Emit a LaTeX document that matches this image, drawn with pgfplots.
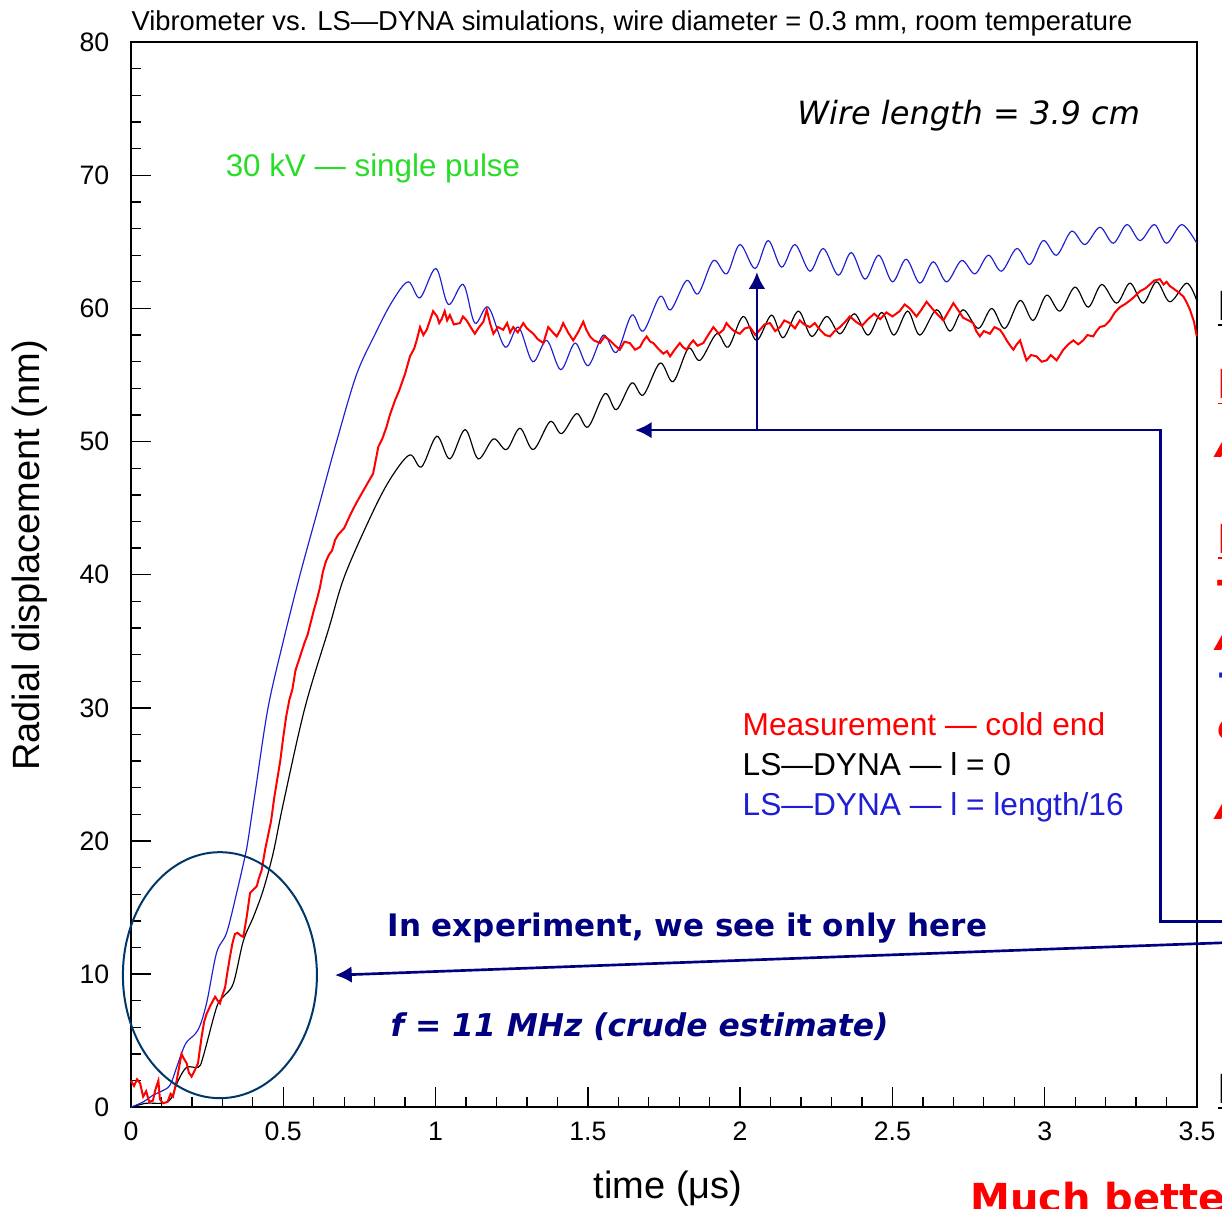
\documentclass[border=0pt]{standalone}
\usepackage{fontspec}
\setmainfont{Liberation Sans}
\newfontfamily\comic{DejaVu Sans}
\usepackage{pgfplots}
\pgfplotsset{compat=1.18}
\usepackage{pgfplotstable}
\usetikzlibrary{arrows.meta}

\definecolor{rootblue}{RGB}{30,30,210}
\definecolor{navy}{RGB}{0,0,128}
\definecolor{ellcol}{RGB}{0,55,105}
\definecolor{lblgreen}{RGB}{40,220,40}

% LS-DYNA, l = length/16
\pgfplotstableread{
x y
0 0
0.04 0.4
0.072 0.9
0.10 1.2
0.128 1.65
0.15 3.0
0.166 4.05
0.183 4.9
0.22 5.8
0.248 7.8
0.281 11.6
0.314 13.1
0.347 16.1
0.374 18.8
0.384 20
0.41 24
0.45 30
0.50 35
0.555 40
0.615 45
0.675 50
0.74 55
0.80 58
0.857 60.5
0.91 62.0
0.949 60.8
1.001 63.0
1.042 60.3
1.091 61.8
1.129 58.9
1.173 60.1
1.228 57.1
1.272 58.6
1.319 56.0
1.365 57.6
1.411 55.4
1.458 57.4
1.501 55.7
1.551 58.0
1.594 56.7
1.644 59.5
1.682 58.3
1.737 60.9
1.772 59.9
1.824 62.1
1.862 61.1
1.912 63.6
1.956 62.6
1.999 64.8
2.049 63.0
2.092 65.1
2.136 63.1
2.18 64.8
2.229 62.8
2.273 64.5
2.322 62.5
2.365 64.2
2.41 62.2
2.455 64.0
2.50 62.0
2.545 63.7
2.59 61.9
2.634 63.5
2.678 62.0
2.727 63.6
2.771 62.6
2.815 64.0
2.858 62.8
2.908 64.5
2.951 63.3
2.995 65.1
3.039 64.0
3.088 65.8
3.132 64.8
3.181 66.1
3.225 64.9
3.27 66.3
3.313 65.1
3.36 66.3
3.40 64.9
3.45 66.3
3.499 64.9
}\bluedata

% LS-DYNA, l = 0
\pgfplotstableread{
x y
0 0
0.05 0.3
0.10 0.3
0.13 0.6
0.155 2.0
0.183 3.0
0.221 3.0
0.237 3.8
0.281 7.5
0.303 8.3
0.336 9.3
0.369 12.5
0.402 14.3
0.434 16.3
0.467 19.1
0.50 22.8
0.571 30
0.65 36
0.703 40
0.80 45
0.86 47.5
0.916 49.0
0.954 48.1
1.004 50.4
1.047 48.7
1.097 50.9
1.14 48.7
1.19 50.2
1.233 49.4
1.277 51.0
1.321 49.4
1.376 51.5
1.414 50.6
1.463 52.1
1.501 51.1
1.556 53.6
1.594 52.4
1.644 54.4
1.682 53.5
1.737 55.9
1.78 54.5
1.83 57.0
1.868 56.1
1.923 58.1
1.961 57.1
2.01 59.4
2.054 57.6
2.103 59.5
2.141 57.8
2.191 59.8
2.235 57.9
2.284 59.4
2.328 58.1
2.375 59.6
2.42 58.0
2.465 59.7
2.505 58.0
2.55 59.8
2.59 58.0
2.645 59.9
2.689 58.3
2.732 59.9
2.782 58.5
2.826 60.0
2.869 58.5
2.919 60.6
2.962 59.1
3.006 61.0
3.05 59.8
3.099 61.6
3.143 60.1
3.187 61.8
3.236 60.4
3.28 61.9
3.323 60.4
3.367 62.0
3.411 60.5
3.466 61.9
3.499 60.6
}\blackdata

% measurement, cold end
\pgfplotstableread{
x y
0 2.0
0.01 1.6
0.02 2.1
0.03 1.8
0.04 0.8
0.05 1.2
0.06 0.4
0.072 0.5
0.08 1.3
0.09 2.0
0.095 0.6
0.105 0.3
0.12 0.4
0.13 1.0
0.138 0.8
0.15 2.0
0.166 4.0
0.175 3.6
0.183 3.3
0.19 2.6
0.199 2.3
0.21 2.8
0.22 3.3
0.232 5.3
0.24 6.4
0.248 7.0
0.26 7.6
0.276 8.3
0.285 8.0
0.292 7.8
0.30 8.4
0.309 9.0
0.317 10.2
0.325 11.3
0.333 12.3
0.341 13.0
0.35 13.1
0.36 12.9
0.369 12.8
0.38 14.3
0.391 16.1
0.40 16.3
0.413 16.6
0.42 17.2
0.429 17.8
0.44 19.3
0.45 20.4
0.46 21.5
0.47 23.2
0.48 24.6
0.49 26.0
0.50 27.8
0.51 29.4
0.52 30.6
0.53 31.4
0.54 32.8
0.55 33.5
0.56 34.2
0.57 34.9
0.58 35.5
0.59 36.4
0.60 37.3
0.61 38.1
0.62 39.0
0.63 40.2
0.64 41.0
0.65 41.5
0.66 41.8
0.67 42.6
0.68 43.0
0.70 43.5
0.72 44.5
0.74 45.4
0.76 46.2
0.78 47.0
0.795 47.6
0.812 49.6
0.825 50.2
0.839 51.1
0.85 52.0
0.867 53.1
0.88 53.8
0.90 55.1
0.916 56.4
0.93 57.0
0.938 57.6
0.949 58.6
0.96 58.0
0.971 58.4
0.98 59.0
0.992 59.8
1.005 59.4
1.012 58.9
1.02 59.2
1.03 59.8
1.038 59.1
1.047 59.5
1.06 58.8
1.08 58.9
1.09 59.4
1.102 59.1
1.115 58.6
1.129 58.1
1.14 58.5
1.157 59.0
1.168 59.9
1.18 58.8
1.19 58.1
1.205 58.6
1.222 58.4
1.235 58.9
1.245 58.2
1.255 58.6
1.27 58.2
1.288 58.9
1.30 58.5
1.321 58.1
1.335 57.7
1.354 57.4
1.37 58.6
1.385 58.2
1.398 57.9
1.41 58.4
1.419 58.9
1.435 58.2
1.452 57.6
1.47 58.3
1.485 59.0
1.495 58.4
1.507 57.9
1.52 57.6
1.54 57.4
1.555 57.9
1.572 57.6
1.59 57.2
1.605 56.9
1.62 57.5
1.638 57.4
1.655 56.9
1.671 57.1
1.683 57.6
1.693 57.9
1.705 57.5
1.715 57.4
1.73 57.0
1.748 56.6
1.76 56.8
1.77 56.4
1.785 56.9
1.802 57.4
1.812 57.1
1.824 56.9
1.835 57.3
1.846 57.6
1.86 57.2
1.879 57.4
1.895 58.0
1.912 58.6
1.93 58.1
1.945 58.4
1.955 58.9
1.966 58.6
1.98 58.3
1.999 58.1
2.015 58.5
2.032 58.6
2.05 58.0
2.065 58.4
2.08 58.8
2.098 58.9
2.115 58.3
2.131 58.6
2.145 59.1
2.163 58.9
2.18 58.5
2.196 59.1
2.21 58.8
2.229 58.6
2.245 58.9
2.262 58.4
2.28 58.0
2.295 57.9
2.31 58.3
2.328 58.6
2.345 59.0
2.36 59.4
2.38 59.0
2.40 58.7
2.42 59.2
2.44 59.6
2.46 59.2
2.48 59.7
2.50 59.4
2.524 59.8
2.54 60.3
2.557 60.0
2.579 59.4
2.595 59.9
2.612 60.5
2.634 59.9
2.65 59.5
2.667 59.1
2.685 59.8
2.70 60.4
2.715 59.9
2.732 59.3
2.75 59.1
2.765 58.9
2.775 58.3
2.787 57.9
2.80 58.3
2.82 58.1
2.835 58.6
2.853 58.4
2.865 58.0
2.875 57.6
2.887 57.2
2.897 56.9
2.908 57.3
2.919 57.6
2.93 56.8
2.94 56.1
2.955 56.5
2.973 56.4
2.99 56.0
3.006 56.1
3.02 56.5
3.039 56.1
3.05 56.5
3.061 56.9
3.077 57.3
3.094 57.6
3.11 57.3
3.126 57.6
3.14 58.0
3.159 57.9
3.17 58.3
3.181 58.6
3.197 58.7
3.214 59.1
3.23 59.7
3.247 60.1
3.262 60.3
3.28 60.6
3.295 60.9
3.313 61.3
3.33 61.5
3.345 61.8
3.36 62.1
3.378 62.2
3.39 61.8
3.40 62.0
3.41 61.7
3.422 61.5
3.44 61.2
3.455 60.9
3.465 60.5
3.477 59.9
3.49 59.0
3.499 57.9
}\reddata

\begin{document}
\begin{tikzpicture}
\begin{axis}[
    scale only axis,
    width=319.8pt, height=319.5pt,
    xmin=0, xmax=3.5, ymin=0, ymax=80,
    clip=false,
    axis line style={line width=0.5pt},
    xtick={0,0.5,1,1.5,2,2.5,3,3.5},
    ytick={0,10,20,30,40,50,60,70,80},
    minor x tick num=4, minor y tick num=4,
    tick align=inside, xtick pos=left, ytick pos=left,
    major tick length=6pt, minor tick length=3pt,
    tick style={black, line width=0.4pt},
    /pgf/number format/assume math mode=true,
    ticklabel style={font=\fontsize{8}{9}\selectfont},
    yticklabel style={xshift=-3pt},
    xticklabel style={yshift=-1pt},
    xlabel={time (μs)},
    xlabel style={at={(axis description cs:0.504,-0.076)}, anchor=center, font=\fontsize{11.4}{13}\selectfont},
    ylabel={Radial displacement (nm)},
    ylabel style={at={(axis description cs:-0.0947,0.518)}, anchor=center, font=\fontsize{11.4}{13}\selectfont},
]
\addplot[black, line width=0.35pt, smooth, tension=0.55] table[x=x,y=y] {\blackdata};
\addplot[rootblue, line width=0.35pt, smooth, tension=0.55] table[x=x,y=y] {\bluedata};
\addplot[red, line width=0.6pt] table[x=x,y=y] {\reddata};

% title
\node[anchor=base west, inner sep=0pt, font=\fontsize{8.2}{9}\selectfont] at (axis description cs:0,1.011) {Vibrometer vs. LS—DYNA simulations, wire diameter = 0.3 mm, room temperature};

% labels inside the frame
\node[anchor=base west, inner sep=0pt, text=lblgreen, font=\fontsize{9.4}{11}\selectfont] at (axis cs:0.309,69.9) {30 kV — single pulse};
\node[anchor=base west, inner sep=0pt, font=\comic\itshape\fontsize{9.6}{12}\selectfont] at (axis cs:2.186,73.8) {Wire length = 3.9 cm};
\node[anchor=base west, inner sep=0pt, text=red, font=\fontsize{9.5}{11}\selectfont] at (axis cs:2.006,27.9) {Measurement — cold end};
\node[anchor=base west, inner sep=0pt, text=black, font=\fontsize{9.5}{11}\selectfont] at (axis cs:2.006,24.9) {LS—DYNA — l = 0};
\node[anchor=base west, inner sep=0pt, text=rootblue, font=\fontsize{9.5}{11}\selectfont] at (axis cs:2.006,21.9) {LS—DYNA — l = length/16};
\node[anchor=base west, inner sep=0pt, text=navy, font=\comic\bfseries\fontsize{9.3}{11}\selectfont] at (axis cs:0.840,12.8) {In experiment, we see it only here};
\node[anchor=base west, inner sep=0pt, text=navy, font=\comic\bfseries\itshape\fontsize{9.4}{11}\selectfont] at (axis cs:0.850,5.33) {f = 11 MHz (crude estimate)};

% ellipse and arrows
\draw[ellcol, line width=0.6pt] (axis cs:0.292,9.92) ellipse [x radius=29.1pt, y radius=36.9pt];
\draw[navy, line width=0.8pt, -{Latex[length=5pt,width=5pt]}] (axis cs:3.70,12.45) -- (axis cs:0.670,9.92);
\draw[navy, line width=0.8pt, -{Latex[length=5pt,width=5pt]}] (axis cs:3.70,13.97) -- (axis cs:3.381,13.97) -- (axis cs:3.381,50.86) -- (axis cs:1.655,50.86);
\draw[navy, line width=0.8pt, -{Latex[length=5pt,width=5pt]}] (axis cs:2.055,50.86) -- (axis cs:2.055,62.73);

% slide text cut off at the right and bottom
\node[anchor=base west, inner sep=0pt, font=\comic\bfseries\fontsize{12}{14}\selectfont] at (axis cs:3.566,59.1) {\underline{I}};
\node[anchor=base west, inner sep=0pt, text=red, font=\comic\bfseries\fontsize{12}{14}\selectfont] at (axis cs:3.566,53.2) {\underline{F}};
\node[anchor=base west, inner sep=0pt, text=red, font=\comic\bfseries\itshape\fontsize{12}{14}\selectfont] at (axis cs:3.562,48.8) {A};
\node[anchor=base west, inner sep=0pt, text=red, font=\comic\bfseries\fontsize{12}{14}\selectfont] at (axis cs:3.566,41.6) {\underline{I}};
\node[anchor=base west, inner sep=0pt, text=red, font=\comic\bfseries\fontsize{12}{14}\selectfont] at (axis cs:3.566,37.4) {T};
\node[anchor=base west, inner sep=0pt, text=red, font=\comic\bfseries\itshape\fontsize{12}{14}\selectfont] at (axis cs:3.562,34.3) {A};
\node[anchor=base west, inner sep=0pt, text=rootblue, font=\comic\bfseries\fontsize{12}{14}\selectfont] at (axis cs:3.566,31.6) {–};
\node[anchor=base west, inner sep=0pt, text=red, font=\comic\bfseries\itshape\fontsize{12}{14}\selectfont] at (axis cs:3.566,27.6) {c};
\node[anchor=base west, inner sep=0pt, text=red, font=\comic\bfseries\itshape\fontsize{12}{14}\selectfont] at (axis cs:3.562,21.6) {A};
\node[anchor=base west, inner sep=0pt, font=\comic\bfseries\fontsize{12}{14}\selectfont] at (axis cs:3.566,0.3) {\underline{I}};
\node[anchor=base west, inner sep=0pt, text=red, font=\comic\bfseries\fontsize{12}{14}\selectfont] at (axis cs:2.754,-7.9) {Much better};

\coordinate (bbsw) at (axis cs:-0.430,-7.59);
\coordinate (bbne) at (axis cs:3.582,83.17);
\end{axis}
\pgfresetboundingbox
\path[use as bounding box] (bbsw) rectangle (bbne);
\end{tikzpicture}
\end{document}
